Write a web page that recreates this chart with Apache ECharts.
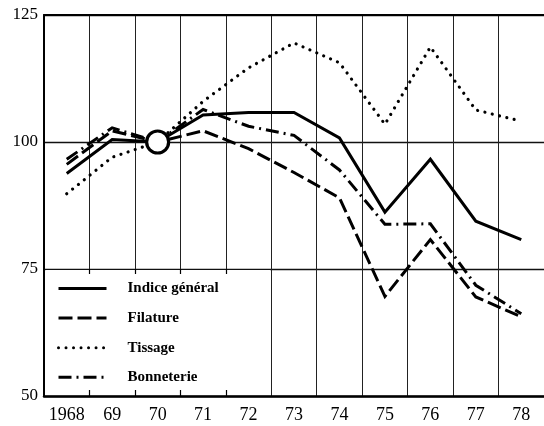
<!DOCTYPE html>
<html>
<head>
<meta charset="utf-8">
<script src="https://cdn.jsdelivr.net/npm/echarts@6/dist/echarts.min.js"></script>
<style>
  html, body { margin: 0; padding: 0; background: #fff; }
  #chart { width: 544px; height: 426px; }
</style>
</head>
<body>
<div id="chart"></div>
<script>
// Textile production indices, base 1970 = 100
const years = ['1968', '69', '70', '71', '72', '73', '74', '75', '76', '77', '78'];
const indiceGeneral = [93.8, 100.5, 100, 105.3, 105.8, 105.8, 100.8, 86.2, 96.6, 84.4, 80.8];
const filature      = [95.6, 102.2, 100, 102.2, 98.7, 94.0, 89.0, 69.6, 80.8, 69.5, 65.6];
const tissage       = [89.8, 97.0, 100, 108.0, 114.6, 119.5, 115.6, 103.5, 118.7, 106.3, 104.1];
const bonneterie    = [96.6, 102.8, 100, 106.4, 103.1, 101.3, 94.5, 83.8, 83.9, 71.8, 66.2];
const baseYear = '70';
const baseValue = 100;
const yTicks = [50, 75, 100, 125];

const serif = 'Liberation Serif, Times New Roman, serif';
const ink = '#000';

const chart = echarts.init(document.getElementById('chart'), null, { renderer: 'canvas' });

function lineSeries(name, values, width, dash, cap) {
  return {
    name: name,
    type: 'line',
    data: values,
    symbol: 'none',
    z: 3,
    lineStyle: { color: ink, width: width, type: dash, cap: cap || 'butt', join: 'miter' },
    itemStyle: { color: ink }
  };
}

const option = {
  animation: false,
  backgroundColor: '#fff',
  grid: { left: 44, top: 15, width: 504, height: 381, containLabel: false },
  xAxis: [
    {
      type: 'category',
      data: years,
      boundaryGap: true,
      axisLine: { show: true, lineStyle: { color: ink, width: 2.5 } },
      axisTick: { show: false },
      axisLabel: { color: ink, fontFamily: serif, fontSize: 18, margin: 10, interval: 0 },
      splitLine: { show: true, interval: 0, lineStyle: { color: '#222', width: 1 } }
    },
    {
      type: 'category',
      data: years,
      position: 'top',
      boundaryGap: true,
      axisLine: { show: true, lineStyle: { color: ink, width: 2 } },
      axisTick: { show: false },
      axisLabel: { show: false },
      splitLine: { show: false }
    }
  ],
  yAxis: {
    type: 'value',
    min: yTicks[0],
    max: yTicks[yTicks.length - 1],
    interval: 25,
    axisLine: { show: true, lineStyle: { color: ink, width: 2 } },
    axisTick: { show: false },
    axisLabel: { color: ink, fontFamily: serif, fontSize: 17, margin: 6 },
    splitLine: { show: true, lineStyle: { color: '#111', width: 1.4 } }
  },
  legend: {
    orient: 'vertical',
    left: 57,
    top: 281,
    padding: 0,
    z: 10,
    itemWidth: 48,
    itemHeight: 16,
    itemGap: 14.6,
    selectedMode: false,
    itemStyle: { color: 'rgba(0,0,0,0)', borderColor: 'rgba(0,0,0,0)', borderWidth: 0 },
    lineStyle: { width: 3, color: ink },
    textStyle: { color: ink, fontFamily: serif, fontWeight: 'bold', fontSize: 15, padding: [0, 0, 0, 16] },
    data: ['Indice général', 'Filature', 'Tissage', 'Bonneterie']
  },
  series: [
    lineSeries('Indice général', indiceGeneral, 3, 'solid'),
    lineSeries('Filature', filature, 3, [14, 5]),
    lineSeries('Tissage', tissage, 3.2, [0.01, 7.5], 'round'),
    lineSeries('Bonneterie', bonneterie, 3, [13, 5, 2, 5]),
    {
      name: 'base',
      type: 'scatter',
      data: [[baseYear, baseValue]],
      symbol: 'circle',
      symbolSize: 22,
      z: 6,
      itemStyle: { color: '#fff', borderColor: ink, borderWidth: 3.2, opacity: 1 }
    }
  ]
};

chart.setOption(option);

// White panel behind the legend, bounded by the 75 gridline and the 72|73 boundary,
// with short tick stubs left along its top and bottom edges.
function drawLegendPanel() {
  const x0 = chart.convertToPixel({ xAxisIndex: 0 }, years[0]);
  const x1 = chart.convertToPixel({ xAxisIndex: 0 }, years[1]);
  const band = x1 - x0;
  const left = x0 - band / 2;
  const right = chart.convertToPixel({ xAxisIndex: 0 }, '72') + band / 2;
  const top = chart.convertToPixel({ yAxisIndex: 0 }, 75);
  const bottom = chart.convertToPixel({ yAxisIndex: 0 }, 50);

  const elements = [{
    type: 'rect',
    z: 1,
    shape: { x: left + 1.5, y: top + 1, width: right - left - 2.5, height: bottom - top - 2.5 },
    style: { fill: '#fff' }
  }];
  for (let i = 1; i <= 4; i++) {
    const bx = Math.round(left + band * i) + 0.5;
    elements.push({ type: 'line', z: 2, shape: { x1: bx, y1: top, x2: bx, y2: top + 5 }, style: { stroke: ink, lineWidth: 1.2 } });
    elements.push({ type: 'line', z: 2, shape: { x1: bx, y1: bottom - 6, x2: bx, y2: bottom }, style: { stroke: ink, lineWidth: 1.2 } });
  }
  chart.setOption({ graphic: { elements: elements } });
}

drawLegendPanel();
</script>
</body>
</html>
